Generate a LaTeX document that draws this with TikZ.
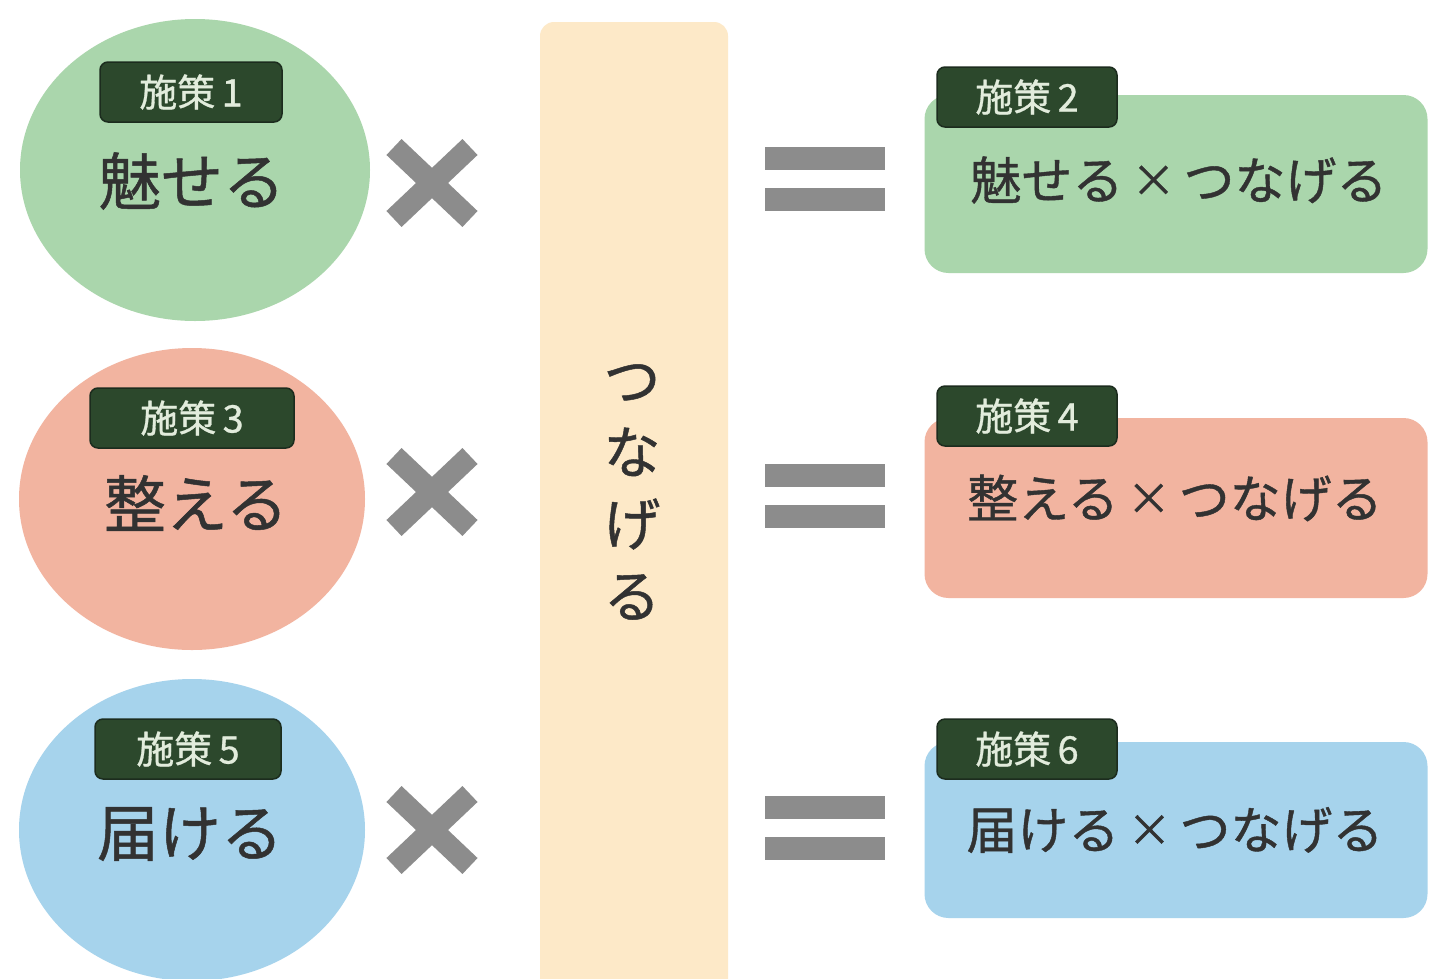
\documentclass[tikz,border=0pt]{standalone}
\usepackage{fontspec}
\setmainfont{Noto Sans CJK JP}
\newfontfamily\medfont[FakeBold=0.8]{Noto Sans CJK JP}
\usetikzlibrary{shapes.geometric}
\definecolor{cgreen}{RGB}{170,214,172}
\definecolor{csalmon}{RGB}{242,180,160}
\definecolor{cblue}{RGB}{166,211,236}
\definecolor{cpeach}{RGB}{253,233,200}
\definecolor{cbadge}{RGB}{44,72,44}
\definecolor{cbadgeline}{RGB}{28,44,30}
\definecolor{cbadgetext}{RGB}{226,236,220}
\definecolor{cmark}{RGB}{140,140,140}
\definecolor{ctext}{RGB}{50,50,50}
\newcommand{\smallx}{\hspace{8pt}\raisebox{3pt}{\fontsize{44}{46}\selectfont ×}\hspace{8pt}}
\tikzset{
  blob/.style={ellipse, minimum width=350pt, minimum height=302pt, inner sep=0pt},
  badge/.style={fill=cbadge, draw=cbadgeline, line width=1.5pt, rounded corners=8pt,
    minimum width=182pt, minimum height=60pt, inner sep=0pt,
    text=cbadgetext, font=\medfont\fontsize{38}{40}\selectfont},
  bigword/.style={text=ctext, font=\medfont\fontsize{62}{66}\selectfont, inner sep=0pt},
  resbox/.style={rounded corners=24pt, minimum width=503pt, minimum height=178pt, inner sep=0pt},
  resword/.style={text=ctext, font=\medfont\fontsize{51}{54}\selectfont, inner sep=0pt},
  crossmark/.style={draw=cmark, line width=22pt},
  eqbar/.style={fill=cmark},
}
\begin{document}
\begin{tikzpicture}[x=1pt,y=-1pt]
\useasboundingbox (0,0) rectangle (1438,978);
\fill[white] (0,0) rectangle (1438,978);
% central bar
\fill[cpeach, rounded corners=14pt] (540,22) rectangle (728,1000);
\node[text=ctext, font=\medfont\fontsize{57}{72}\selectfont, align=center, inner sep=0pt] (bar) at (632,492) {つ\\な\\げ\\る};
% left circles
\node[blob, fill=cgreen] (c1) at (195,170) {};
\node[blob, fill=csalmon, minimum width=346pt] (c2) at (192,499) {};
\node[blob, fill=cblue, minimum width=346pt] (c3) at (192,830) {};
\node[badge] (b1) at (191,92) {施策\,1};
\node[badge, minimum width=204pt] (b3) at (192,418) {施策\,3};
\node[badge, minimum width=186pt] (b5) at (188,749) {施策\,5};
\node[bigword] (w1) at (192,181) {魅せる};
\node[bigword] (w3) at (196,503) {整える};
\node[bigword] (w5) at (190,834) {届ける};
% cross marks
\foreach \n/\y in {1/183,2/492,3/830}{
  \coordinate (x\n) at (432,\y);
  \draw[crossmark] ([shift={(-38,-36)}]x\n) -- ([shift={(38,36)}]x\n);
  \draw[crossmark] ([shift={(-38,36)}]x\n) -- ([shift={(38,-36)}]x\n);
}
% equals marks
\foreach \n/\y in {1/180,2/497,3/829}{
  \coordinate (e\n) at (825,\y);
  \fill[eqbar] ([shift={(-60,-33)}]e\n) rectangle ([shift={(60,-10)}]e\n);
  \fill[eqbar] ([shift={(-60,8)}]e\n) rectangle ([shift={(60,31)}]e\n);
}
% result boxes
\node[resbox, fill=cgreen] (r1) at (1176,184) {};
\node[resbox, fill=csalmon, minimum height=180pt] (r2) at (1176,508) {};
\node[resbox, fill=cblue, minimum height=176pt] (r3) at (1176,830) {};
\node[badge, minimum width=180pt] (b2) at (1027,97) {施策\,2};
\node[badge, minimum width=180pt] (b4) at (1027,416) {施策\,4};
\node[badge, minimum width=180pt] (b6) at (1027,749) {施策\,6};
\node[resword] (t2) at (1179,180) {魅せる\smallx つなげる};
\node[resword] (t4) at (1175,498) {整える\smallx つなげる};
\node[resword] (t6) at (1175,830) {届ける\smallx つなげる};
\end{tikzpicture}
\end{document}
